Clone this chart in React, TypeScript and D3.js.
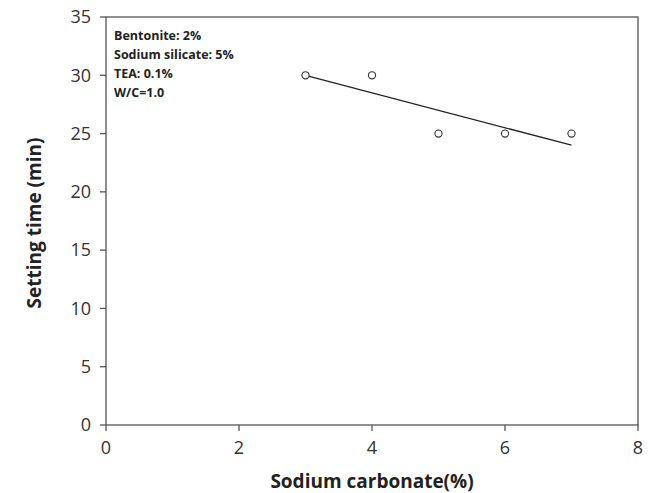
import React from 'react'
import { scaleLinear, line } from 'd3'

const xValues = [3, 4, 5, 6, 7]
const yValues = [30, 30, 25, 25, 25]
const xTicks = [0, 2, 4, 6, 8]
const yTicks = [0, 5, 10, 15, 20, 25, 30, 35]
const notes = ['Bentonite: 2%', 'Sodium silicate: 5%', 'TEA: 0.1%', 'W/C=1.0']

// least squares fit for the trend line
function fit(xs: number[], ys: number[]) {
  const n = xs.length
  const mx = xs.reduce((a, b) => a + b, 0) / n
  const my = ys.reduce((a, b) => a + b, 0) / n
  let num = 0
  let den = 0
  xs.forEach((x, i) => {
    num += (x - mx) * (ys[i] - my)
    den += (x - mx) * (x - mx)
  })
  const slope = num / den
  return (x: number) => my + slope * (x - mx)
}

export default function App() {
  const width = 651
  const height = 493
  const margin = { top: 17, right: 13, bottom: 68, left: 106 }
  const innerWidth = width - margin.left - margin.right
  const innerHeight = height - margin.top - margin.bottom

  const xScale = scaleLinear().domain([0, 8]).range([0, innerWidth])
  const yScale = scaleLinear().domain([0, 35]).range([innerHeight, 0])

  const f = fit(xValues, yValues)
  const x0 = Math.min(...xValues)
  const x1 = Math.max(...xValues)
  const trend = line<number>()
    .x(d => xScale(d))
    .y(d => yScale(f(d)))([x0, x1])

  const font = "'Open Sans', 'DejaVu Sans', sans-serif"
  const ink = '#333'

  return (
    <svg width={width} height={height} style={{ position: 'absolute', left: 0, top: 0, background: '#fff' }}>
      <g transform={`translate(${margin.left},${margin.top})`} fontFamily={font}>
        <rect x={0} y={0} width={innerWidth} height={innerHeight} fill="none" stroke="#555" strokeWidth={1.3} />
        {yTicks.map(t => (
          <g key={'y' + t} transform={`translate(0,${yScale(t)})`}>
            <line x1={-6} x2={0} stroke="#555" strokeWidth={1.3} />
            <text x={-15} dy="0.35em" textAnchor="end" fontSize={18} fill={ink}>{t}</text>
          </g>
        ))}
        {xTicks.map(t => (
          <g key={'x' + t} transform={`translate(${xScale(t)},${innerHeight})`}>
            <line y1={0} y2={6} stroke="#555" strokeWidth={1.3} />
            <text y={29} textAnchor="middle" fontSize={18} fill={ink}>{t}</text>
          </g>
        ))}
        <path d={trend || ''} fill="none" stroke="#222" strokeWidth={1.3} />
        {xValues.map((x, i) => (
          <circle key={i} cx={xScale(x)} cy={yScale(yValues[i])} r={3.6} fill="#fff" stroke="#333" strokeWidth={1.1} />
        ))}
        {notes.map((s, i) => (
          <text key={s} x={8} y={23 + i * 19} fontSize={12.5} fontWeight="bold" fill="#222">{s}</text>
        ))}
        <text x={innerWidth / 2} y={innerHeight + 63} textAnchor="middle" fontSize={19} fontWeight="bold" fill="#222">
          Sodium carbonate(%)
        </text>
        <text transform={`translate(${-65},${innerHeight / 2 + 2}) rotate(-90)`} textAnchor="middle" fontSize={19} fontWeight="bold" fill="#222">
          Setting time (min)
        </text>
      </g>
    </svg>
  )
}
